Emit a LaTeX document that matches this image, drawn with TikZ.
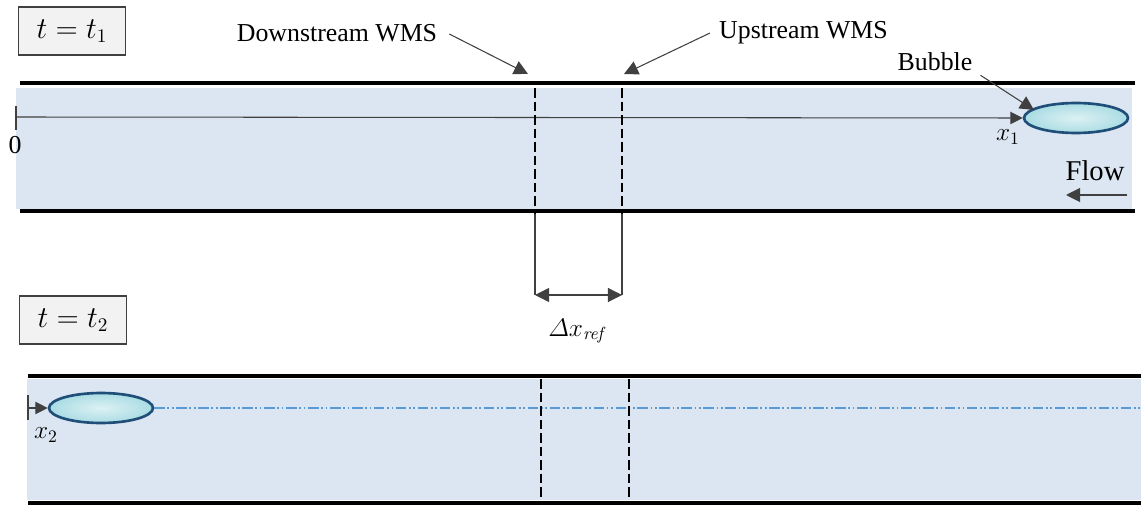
\documentclass[tikz,border=0pt]{standalone}
\usepackage[no-math]{fontspec}
\setmainfont{Liberation Serif}
\usetikzlibrary{arrows.meta,shapes.geometric}

\definecolor{pipeblue}{HTML}{DCE6F2}
\definecolor{bubblefill}{HTML}{A9DCE3}
\definecolor{bubbleedge}{HTML}{1F4E79}
\definecolor{boxgray}{HTML}{F2F2F2}
\definecolor{axisgray}{HTML}{404040}
\definecolor{centreblue}{HTML}{5B9BD5}

\tikzset{
    wall/.style={line width=2.8pt},
    wms/.style={line width=1.5pt, dash pattern=on 5.5pt off 2.2pt},
    timebox/.style={draw=axisgray, line width=1pt, fill=boxgray,
        minimum width=2.14cm, minimum height=0.95cm, inner sep=0pt},
    bubble/.style={ellipse, draw=bubbleedge, line width=1.5pt,
        inner color=bubblefill!40, outer color=bubblefill,
        minimum width=2.08cm, minimum height=0.6cm, inner sep=0pt},
    pointer/.style={draw=axisgray, line width=0.6pt, -{Triangle[length=8pt, width=8pt]}},
    axis/.style={draw=axisgray, line width=0.6pt, -{Triangle[length=7pt, width=7pt]}},
    dimline/.style={draw=axisgray, line width=0.6pt}
}

\begin{document}
\begin{tikzpicture}[x=0.02cm, y=-0.02cm, font=\fontsize{14.7}{17}\selectfont]
    \useasboundingbox (0,0) rectangle (1141,506);

    % first instant: bubble still near the inlet end
    \fill[pipeblue] (16,88) rectangle (1132,209);
    \draw[wall] (20,83) -- (1135,83);
    \draw[wall] (20,211) -- (1135,211);

    \node[timebox, font=\fontsize{16}{19}\selectfont] (t1) at (72,31) {$t = t_1$};

    \coordinate (o1) at (16,117);
    \draw[dimline] (16,106) -- (16,130);
    \node (zero) at (15,145) {0};
    \node[bubble] (b1) at (1076,118) {};
    \draw[axis] (o1) -- (b1.west);
    \node (x1) at (1008,137) {$x_1$};

    \node[font=\fontsize{16.3}{19}\selectfont] (flow) at (1095,171) {Flow};
    \coordinate (fs) at (1127,195);
    \coordinate (fe) at (1066,195);
    \draw[pointer] (fs) -- (fe);

    % wire mesh sensors
    \coordinate (ds1) at (535,88);
    \coordinate (ds1b) at (535,214);
    \coordinate (us1) at (622,88);
    \coordinate (us1b) at (622,214);
    \draw[wms] (ds1) -- (ds1b);
    \draw[wms] (us1) -- (us1b);

    \node (down) at (337,33) {Downstream WMS};
    \coordinate (downtip) at (528,74);
    \draw[pointer] (down.east) ++(6,1) -- (downtip);

    \node[anchor=west] (up) at (713,33) {Upstream WMS};
    \coordinate (uptip) at (624,74);
    \draw[pointer] (up.west) ++(-3,0) -- (uptip);

    \node (bub) at (935,62) {Bubble};
    \coordinate (bubtip) at (1034,110);
    \draw[pointer] (bub.south east) ++(2,-2) -- (bubtip);

    % spacing between the two sensors
    \coordinate (dl) at (535,295);
    \coordinate (dr) at (622,295);
    \draw[dimline] (ds1b) -- (dl);
    \draw[dimline] (us1b) -- (dr);
    \draw[dimline, {Triangle[length=8pt, width=8pt]}-{Triangle[length=8pt, width=8pt]}] (dl) -- (dr);
    \node (dx) at (578,331) {$\mathnormal{\Delta} x_{\mathit{ref}}$};

    % second instant: bubble has reached the far end
    \fill[pipeblue] (27,379) rectangle (1141,500);
    \draw[wall] (28,376) -- (1141,376);
    \draw[wall] (28,503) -- (1141,503);

    \node[timebox, font=\fontsize{16}{19}\selectfont] (t2) at (73,320) {$t = t_2$};

    \coordinate (o2) at (28,408);
    \draw[dimline] (28,395) -- (28,420);
    \node[bubble] (b2) at (101,408) {};
    \draw[axis] (o2) -- (b2.west);
    \node (x2) at (46,435) {$x_2$};

    \coordinate (cl) at (1141,408);
    \draw[centreblue, line width=0.8pt, dash pattern=on 6pt off 1.5pt on 1pt off 1.5pt on 1pt off 1.5pt] (b2.east) -- (cl);

    \draw[wms] (541,379) -- (541,503);
    \draw[wms] (629,379) -- (629,503);
\end{tikzpicture}
\end{document}
